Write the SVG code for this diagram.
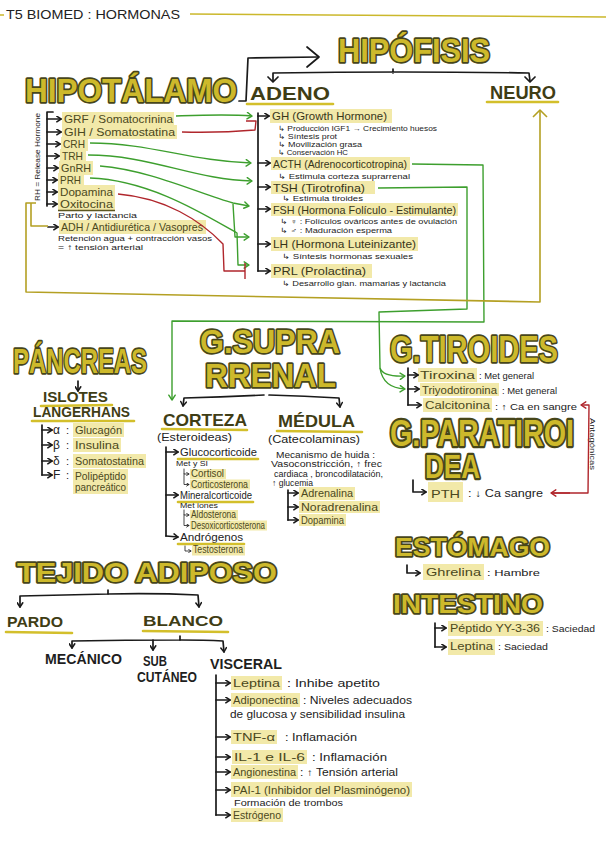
<svg xmlns="http://www.w3.org/2000/svg" width="606" height="848" viewBox="0 0 606 848">
<defs>
<style>
text{font-family:"Liberation Sans","DejaVu Sans",sans-serif}
.big{font-weight:bold;fill:#cdb92b;stroke:#47461a;stroke-width:3.4;paint-order:stroke;stroke-linejoin:round}
.hd{font-weight:bold;fill:#3f3d15}
.cap{font-weight:bold;fill:#1e1e1e}
.ul{stroke:#d3bf2b;stroke-width:2.6;fill:none;stroke-linecap:round}
.hl{fill:#f2e9a9}
.it{font-size:11px;fill:#4b4820}
.ad{font-size:11px;fill:#37351a}
.sm{font-size:7.2px;fill:#222}
.tx{fill:#222}
.k{stroke:#1a1a1a;stroke-width:1.7;fill:none;stroke-linecap:round;stroke-linejoin:round}
.kt{stroke:#1a1a1a;stroke-width:0.8;fill:none;stroke-linecap:round;stroke-linejoin:round}
.g{stroke:#3d9f2e;stroke-width:1.4;fill:none;stroke-linejoin:round}
.r{stroke:#b0262c;stroke-width:1.4;fill:none;stroke-linejoin:round}
.y{stroke:#b4a023;stroke-width:1.6;fill:none;stroke-linejoin:round}
</style>
<marker id="mk" viewBox="0 0 10 10" refX="8" refY="5" markerWidth="7" markerHeight="7" markerUnits="userSpaceOnUse" orient="auto"><path d="M2,1 L8,5 L2,9" fill="none" stroke="#1a1a1a" stroke-width="2.2" stroke-linecap="round" stroke-linejoin="round"/></marker>
<marker id="mt" viewBox="0 0 10 10" refX="8" refY="5" markerWidth="4" markerHeight="4" markerUnits="userSpaceOnUse" orient="auto"><path d="M2,1 L8,5 L2,9" fill="none" stroke="#1a1a1a" stroke-width="2" stroke-linecap="round" stroke-linejoin="round"/></marker>
<marker id="mg" viewBox="0 0 10 10" refX="8" refY="5" markerWidth="8" markerHeight="8" markerUnits="userSpaceOnUse" orient="auto"><path d="M2,1 L8,5 L2,9" fill="none" stroke="#3d9f2e" stroke-width="1.8" stroke-linecap="round" stroke-linejoin="round"/></marker>
<marker id="mr" viewBox="0 0 10 10" refX="8" refY="5" markerWidth="8" markerHeight="8" markerUnits="userSpaceOnUse" orient="auto"><path d="M2,1 L8,5 L2,9" fill="none" stroke="#b0262c" stroke-width="1.8" stroke-linecap="round" stroke-linejoin="round"/></marker>
</defs>
<rect width="606" height="848" fill="#ffffff"/>

<g id="title">
<path d="M0,15 L4,15 M190,14 L606,17" stroke="#cbb82c" stroke-width="1.6" fill="none"/>
<text class="tx" x="6" y="19" font-size="13" textLength="174" lengthAdjust="spacingAndGlyphs">T5 BIOMED : HORMONAS</text>
</g>

<g id="hipotalamo">
<text class="big" x="25" y="102" font-size="34" textLength="212" lengthAdjust="spacingAndGlyphs">HIPOTÁLAMO</text>
<text class="tx" transform="translate(40,201) rotate(-90)" font-size="7" textLength="88" lengthAdjust="spacingAndGlyphs">RH = Release Hormone</text>
<rect class="hl" x="62" y="112" width="112" height="14"/><text class="it" x="64" y="123" textLength="109" lengthAdjust="spacingAndGlyphs">GRF / Somatocrinina</text>
<rect class="hl" x="62" y="125" width="115" height="14"/><text class="it" x="64" y="136" textLength="111" lengthAdjust="spacingAndGlyphs">GIH / Somatostatina</text>
<rect class="hl" x="61" y="137" width="27" height="14"/><text class="it" x="63" y="148" textLength="22" lengthAdjust="spacingAndGlyphs">CRH</text>
<rect class="hl" x="60" y="149" width="26" height="14"/><text class="it" x="62" y="160" textLength="21" lengthAdjust="spacingAndGlyphs">TRH</text>
<rect class="hl" x="59" y="161" width="34" height="14"/><text class="it" x="61" y="172" textLength="30" lengthAdjust="spacingAndGlyphs">GnRH</text>
<rect class="hl" x="58" y="173" width="26" height="14"/><text class="it" x="60" y="184" textLength="21" lengthAdjust="spacingAndGlyphs">PRH</text>
<rect class="hl" x="58" y="185" width="57" height="14"/><text class="it" x="60" y="196" textLength="53" lengthAdjust="spacingAndGlyphs">Dopamina</text>
<rect class="hl" x="58" y="197" width="57" height="13"/><text class="it" x="60" y="208" textLength="53" lengthAdjust="spacingAndGlyphs">Oxitocina</text>
<path d="M58,210.5 L115,210.5" stroke="#5c5620" stroke-width="1.3"/>
<text class="sm" x="58" y="218" textLength="79" lengthAdjust="spacingAndGlyphs">Parto y lactancia</text>
<rect class="hl" x="59" y="220" width="147" height="14"/><text class="it" x="61" y="231" textLength="142" lengthAdjust="spacingAndGlyphs">ADH / Antidiurética / Vasopres</text>
<text class="tx" x="58" y="241" font-size="8" textLength="154" lengthAdjust="spacingAndGlyphs">Retención agua + contracción vasos</text>
<text class="tx" x="58" y="250" font-size="8" textLength="85" lengthAdjust="spacingAndGlyphs">= ↑ tensión arterial</text>
</g>

<g id="hipofisis">
<text class="big" x="338" y="62" font-size="34" textLength="152" lengthAdjust="spacingAndGlyphs">HIPÓFISIS</text>
</g>

<g id="adeno">
<text class="hd" x="250" y="100" font-size="18" textLength="80" lengthAdjust="spacingAndGlyphs">ADENO</text>
<path class="ul" d="M247,104 L333,104"/>
<rect class="hl" x="270" y="109" width="122" height="14"/><text class="ad" x="272" y="120" textLength="115" lengthAdjust="spacingAndGlyphs">GH (Growth Hormone)</text>
<text class="sm" x="278" y="130.5" textLength="159" lengthAdjust="spacingAndGlyphs">↳ Producción IGF1 → Crecimiento huesos</text>
<text class="sm" x="278" y="138.5" textLength="59" lengthAdjust="spacingAndGlyphs">↳ Síntesis prot</text>
<text class="sm" x="278" y="146.5" textLength="84" lengthAdjust="spacingAndGlyphs">↳ Movilización grasa</text>
<text class="sm" x="278" y="154.5" textLength="70" lengthAdjust="spacingAndGlyphs">↳ Conservación HC</text>
<rect class="hl" x="271" y="157" width="139" height="13"/><text class="ad" x="273" y="167.5" textLength="134" lengthAdjust="spacingAndGlyphs">ACTH (Adrenocorticotropina)</text>
<text class="sm" x="278" y="178.5" textLength="132" lengthAdjust="spacingAndGlyphs">↳ Estimula corteza suprarrenal</text>
<rect class="hl" x="271" y="181" width="104" height="13"/><text class="ad" x="273" y="191.5" textLength="92" lengthAdjust="spacingAndGlyphs">TSH (Tirotrofina)</text>
<text class="sm" x="282" y="201" textLength="81" lengthAdjust="spacingAndGlyphs">↳ Estimula tiroides</text>
<rect class="hl" x="271" y="203" width="187" height="13"/><text class="ad" x="273" y="213.5" textLength="183" lengthAdjust="spacingAndGlyphs">FSH (Hormona Folículo - Estimulante)</text>
<text class="sm" x="280" y="224" textLength="177" lengthAdjust="spacingAndGlyphs">↳ ♀ : Folículos ováricos antes de ovulación</text>
<text class="sm" x="280" y="233" textLength="112" lengthAdjust="spacingAndGlyphs">↳ ♂ : Maduración esperma</text>
<rect class="hl" x="271" y="237" width="147" height="14"/><text class="ad" x="273" y="248" textLength="143" lengthAdjust="spacingAndGlyphs">LH (Hormona Luteinizante)</text>
<text class="sm" x="282" y="259" textLength="131" lengthAdjust="spacingAndGlyphs">↳ Síntesis hormonas sexuales</text>
<rect class="hl" x="271" y="264" width="101" height="14"/><text class="ad" x="273" y="275" textLength="93" lengthAdjust="spacingAndGlyphs">PRL (Prolactina)</text>
<text class="sm" x="282" y="286" textLength="164" lengthAdjust="spacingAndGlyphs">↳ Desarrollo glan. mamarias y lactancia</text>
</g>

<g id="neuro">
<text class="hd" x="490" y="99" font-size="18" textLength="66" lengthAdjust="spacingAndGlyphs">NEURO</text>
<path class="ul" d="M487,102 L558,102"/>
</g>

<g id="pancreas">
<text class="big" x="13" y="373" font-size="35" textLength="134" lengthAdjust="spacingAndGlyphs">PÁNCREAS</text>
<text class="hd" x="43" y="402" font-size="15" textLength="65" lengthAdjust="spacingAndGlyphs">ISLOTES</text>
<path class="ul" d="M41,406 L112,405"/>
<text class="hd" x="33" y="417" font-size="15" textLength="97" lengthAdjust="spacingAndGlyphs">LANGERHANS</text>
<path class="ul" d="M32,421 L134,421"/>
<text class="tx" x="53" y="434" font-size="12">α</text><text class="tx" x="66" y="434" font-size="11">:</text>
<rect class="hl" x="73" y="423" width="51" height="14"/><text class="it" x="75" y="434" textLength="47" lengthAdjust="spacingAndGlyphs">Glucagón</text>
<text class="tx" x="53" y="449" font-size="12">β</text><text class="tx" x="66" y="449" font-size="11">:</text>
<rect class="hl" x="73" y="438" width="48" height="14"/><text class="it" x="75" y="449" textLength="44" lengthAdjust="spacingAndGlyphs">Insulina</text>
<text class="tx" x="53" y="465" font-size="12">δ</text><text class="tx" x="66" y="465" font-size="11">:</text>
<rect class="hl" x="73" y="454" width="73" height="14"/><text class="it" x="75" y="465" textLength="69" lengthAdjust="spacingAndGlyphs">Somatostatina</text>
<text class="tx" x="53" y="479" font-size="12">F</text><text class="tx" x="66" y="479" font-size="11">:</text>
<rect class="hl" x="73" y="469" width="55" height="25"/><text class="it" x="75" y="480" textLength="51" lengthAdjust="spacingAndGlyphs">Polipéptido</text>
<text class="it" x="75" y="491" textLength="51" lengthAdjust="spacingAndGlyphs">pancreático</text>
</g>

<g id="suprarrenal">
<text class="big" x="200" y="353" font-size="34" textLength="140" lengthAdjust="spacingAndGlyphs">G.SUPRA</text>
<text class="big" x="205" y="387" font-size="34" textLength="131" lengthAdjust="spacingAndGlyphs">RRENAL</text>
</g>

<g id="corteza">
<text class="hd" x="163" y="426" font-size="17" textLength="84" lengthAdjust="spacingAndGlyphs">CORTEZA</text>
<path class="ul" d="M162,429 L247,430"/>
<text class="tx" x="157" y="441" font-size="10" textLength="75" lengthAdjust="spacingAndGlyphs">(Esteroideas)</text>
<text class="tx" x="180" y="456" font-size="10.5" textLength="77" lengthAdjust="spacingAndGlyphs">Glucocorticoide</text>
<path class="ul" d="M178,459 L258,459" stroke-width="2"/>
<text class="tx" x="176" y="466" font-size="8" textLength="32" lengthAdjust="spacingAndGlyphs">Met y SI</text>
<rect class="hl" x="190" y="469" width="36" height="10"/><text class="it" x="191" y="476.5" font-size="7.5" textLength="33" lengthAdjust="spacingAndGlyphs">Cortisol</text>
<rect class="hl" x="190" y="479.5" width="60" height="10"/><text class="it" x="191" y="487.5" font-size="7.5" textLength="57" lengthAdjust="spacingAndGlyphs">Corticosterona</text>
<text class="tx" x="180" y="499" font-size="10.5" textLength="72" lengthAdjust="spacingAndGlyphs">Mineralcorticoide</text>
<path class="ul" d="M178,502 L253,502" stroke-width="2"/>
<text class="tx" x="180" y="507.5" font-size="8" textLength="38" lengthAdjust="spacingAndGlyphs">Met iones</text>
<rect class="hl" x="190" y="510" width="48" height="10"/><text class="it" x="191" y="517.5" font-size="7.5" textLength="45" lengthAdjust="spacingAndGlyphs">Aldosterona</text>
<rect class="hl" x="190" y="520.5" width="77" height="10"/><text class="it" x="191" y="528.5" font-size="7.5" textLength="74" lengthAdjust="spacingAndGlyphs">Desoxicorticosterona</text>
<text class="tx" x="180" y="541" font-size="10.5" textLength="63" lengthAdjust="spacingAndGlyphs">Andrógenos</text>
<path class="ul" d="M178,544 L244,544" stroke-width="2"/>
<rect class="hl" x="192" y="545.5" width="53" height="10"/><text class="it" x="193" y="553" font-size="7.5" textLength="50" lengthAdjust="spacingAndGlyphs">Testosterona</text>
</g>

<g id="medula">
<text class="hd" x="278" y="427" font-size="17" textLength="77" lengthAdjust="spacingAndGlyphs">MÉDULA</text>
<path class="ul" d="M277,431 L362,432"/>
<text class="tx" x="268" y="443" font-size="10" textLength="92" lengthAdjust="spacingAndGlyphs">(Catecolaminas)</text>
<text class="tx" x="276" y="458" font-size="8.5" textLength="99" lengthAdjust="spacingAndGlyphs">Mecanismo de huida :</text>
<text class="tx" x="271" y="467" font-size="8.5" textLength="111" lengthAdjust="spacingAndGlyphs">Vasoconstricción, ↑ frec</text>
<text class="tx" x="274" y="477" font-size="8.5" textLength="109" lengthAdjust="spacingAndGlyphs">cardiaca , broncodilatación,</text>
<text class="tx" x="272" y="486" font-size="8.5" textLength="41" lengthAdjust="spacingAndGlyphs">↑ glucemia</text>
<rect class="hl" x="299" y="487" width="56" height="13"/><text class="it" x="301" y="497" font-size="10" textLength="52" lengthAdjust="spacingAndGlyphs">Adrenalina</text>
<rect class="hl" x="299" y="501" width="81" height="12"/><text class="it" x="301" y="510.5" font-size="10" textLength="77" lengthAdjust="spacingAndGlyphs">Noradrenalina</text>
<rect class="hl" x="299" y="514" width="47" height="12"/><text class="it" x="301" y="523.5" font-size="10" textLength="43" lengthAdjust="spacingAndGlyphs">Dopamina</text>
</g>

<g id="tiroides">
<text class="big" x="390" y="362" font-size="37" textLength="168" lengthAdjust="spacingAndGlyphs">G.TIROIDES</text>
<rect class="hl" x="418" y="368" width="59" height="14"/><text class="it" x="420" y="379" textLength="55" lengthAdjust="spacingAndGlyphs">Tiroxina</text>
<text class="tx" x="479" y="379" font-size="8.5" textLength="55" lengthAdjust="spacingAndGlyphs">: Met general</text>
<rect class="hl" x="420" y="383" width="79" height="13"/><text class="it" x="422" y="393.5" textLength="75" lengthAdjust="spacingAndGlyphs">Triyodotironina</text>
<text class="tx" x="502" y="394" font-size="8.5" textLength="55" lengthAdjust="spacingAndGlyphs">: Met general</text>
<rect class="hl" x="423" y="398" width="69" height="14"/><text class="it" x="425" y="409" textLength="65" lengthAdjust="spacingAndGlyphs">Calcitonina</text>
<text class="tx" x="495" y="410" font-size="9" textLength="82" lengthAdjust="spacingAndGlyphs">: ↑ Ca en sangre</text>
</g>

<g id="paratiroidea">
<text class="big" transform="translate(390,446) scale(1,1.3)" x="0" y="0" font-size="28" stroke-width="2.8" textLength="184" lengthAdjust="spacingAndGlyphs">G.PARATIROI</text>
<text class="big" transform="translate(425,478) scale(1,1.3)" x="0" y="0" font-size="26" stroke-width="2.8" textLength="55" lengthAdjust="spacingAndGlyphs">DEA</text>
<rect class="hl" x="428" y="482" width="35" height="20"/><text class="it" x="431" y="498" font-size="14" textLength="29" lengthAdjust="spacingAndGlyphs">PTH</text>
<text class="tx" x="468" y="497" font-size="10" textLength="75" lengthAdjust="spacingAndGlyphs">: ↓ Ca sangre</text>
<text class="tx" transform="translate(590,418) rotate(90)" font-size="7.5" textLength="52" lengthAdjust="spacingAndGlyphs">Antagónicas</text>
</g>

<g id="estomago">
<text class="big" x="395" y="556" font-size="26" textLength="155" lengthAdjust="spacingAndGlyphs">ESTÓMAGO</text>
<rect class="hl" x="423" y="564" width="61" height="16"/><text class="it" x="426" y="576" textLength="55" lengthAdjust="spacingAndGlyphs">Ghrelina</text>
<text class="tx" x="487" y="576" font-size="9.5" textLength="53" lengthAdjust="spacingAndGlyphs">: Hambre</text>
</g>

<g id="intestino">
<text class="big" x="393" y="613" font-size="26" textLength="150" lengthAdjust="spacingAndGlyphs">INTESTINO</text>
<rect class="hl" x="448" y="621" width="95" height="15"/><text class="it" x="450" y="632" font-size="10" textLength="90" lengthAdjust="spacingAndGlyphs">Péptido YY-3-36</text>
<text class="tx" x="546" y="632" font-size="9.5" textLength="49" lengthAdjust="spacingAndGlyphs">: Saciedad</text>
<rect class="hl" x="448" y="639" width="47" height="16"/><text class="it" x="450" y="650" font-size="10" textLength="43" lengthAdjust="spacingAndGlyphs">Leptina</text>
<text class="tx" x="498" y="650" font-size="9.5" textLength="50" lengthAdjust="spacingAndGlyphs">: Saciedad</text>
</g>

<g id="tejido-adiposo">
<text class="big" x="17" y="582" font-size="28" textLength="260" lengthAdjust="spacingAndGlyphs">TEJIDO ADIPOSO</text>
</g>

<g id="pardo">
<text class="hd" x="7" y="627" font-size="15" textLength="56" lengthAdjust="spacingAndGlyphs">PARDO</text>
<path class="ul" d="M6,632 L72,633"/>
</g>

<g id="blanco">
<text class="hd" x="143" y="626" font-size="15" textLength="80" lengthAdjust="spacingAndGlyphs">BLANCO</text>
<path class="ul" d="M143,631 L228,632"/>
</g>

<g id="mecanico"><text class="cap" x="45" y="664" font-size="14" textLength="77" lengthAdjust="spacingAndGlyphs">MECÁNICO</text></g>
<g id="subcutaneo">
<text class="cap" x="143" y="666" font-size="14" textLength="24" lengthAdjust="spacingAndGlyphs">SUB</text>
<text class="cap" x="137" y="682" font-size="14" textLength="60" lengthAdjust="spacingAndGlyphs">CUTÁNEO</text>
</g>
<g id="visceral">
<text class="cap" x="210" y="669" font-size="14" textLength="72" lengthAdjust="spacingAndGlyphs">VISCERAL</text>
<rect class="hl" x="231" y="676" width="51" height="14"/><text class="it" x="233" y="687" textLength="47" lengthAdjust="spacingAndGlyphs">Leptina</text>
<text class="tx" x="287" y="687" font-size="10" textLength="93" lengthAdjust="spacingAndGlyphs">: Inhibe apetito</text>
<rect class="hl" x="231" y="693" width="69" height="14"/><text class="it" x="233" y="704" textLength="65" lengthAdjust="spacingAndGlyphs">Adiponectina</text>
<text class="tx" x="303" y="704" font-size="10" textLength="109" lengthAdjust="spacingAndGlyphs">: Niveles adecuados</text>
<text class="tx" x="230" y="718" font-size="10" textLength="175" lengthAdjust="spacingAndGlyphs">de glucosa y sensibilidad insulina</text>
<rect class="hl" x="231" y="730" width="46" height="14"/><text class="it" x="233" y="741" textLength="42" lengthAdjust="spacingAndGlyphs">TNF-α</text>
<text class="tx" x="285" y="741" font-size="10" textLength="72" lengthAdjust="spacingAndGlyphs">: Inflamación</text>
<rect class="hl" x="232" y="750" width="75" height="14"/><text class="it" x="234" y="761" textLength="71" lengthAdjust="spacingAndGlyphs">IL-1 e IL-6</text>
<text class="tx" x="312" y="761" font-size="10" textLength="75" lengthAdjust="spacingAndGlyphs">: Inflamación</text>
<rect class="hl" x="231" y="765" width="67" height="14"/><text class="it" x="233" y="776" font-size="10" textLength="63" lengthAdjust="spacingAndGlyphs">Angionestina</text>
<text class="tx" x="300" y="776" font-size="10" textLength="98" lengthAdjust="spacingAndGlyphs">: ↑ Tensión arterial</text>
<rect class="hl" x="231" y="782" width="181" height="15"/><text class="it" x="233" y="794" textLength="177" lengthAdjust="spacingAndGlyphs">PAI-1 (Inhibidor del Plasminógeno)</text>
<text class="tx" x="234" y="806" font-size="9.5" textLength="109" lengthAdjust="spacingAndGlyphs">Formación de trombos</text>
<rect class="hl" x="231" y="808" width="52" height="14"/><text class="it" x="233" y="819" textLength="48" lengthAdjust="spacingAndGlyphs">Estrógeno</text>
</g>

<g id="connectors">
<path class="k" stroke-width="3.4" d="M239,101 L246,101 L248,58 L318,57"/>
<path class="k" stroke-width="3.4" d="M307,47 L319,57 L307,67"/>
<path class="k" d="M273,81 L273,73 Q400,71 529,73 L530,81 M393,69 L393,73"/>
<path class="k" d="M268,77 L273,82 L278,77 M525,77 L530,82 L535,77"/>
<path class="k" d="M53,112 L47,112 L47,206"/>
<path class="k" marker-end="url(#mk)" d="M47,119 L61,119"/>
<path class="k" marker-end="url(#mk)" d="M47,132 L61,132"/>
<path class="k" marker-end="url(#mk)" d="M47,144 L60,144"/>
<path class="k" marker-end="url(#mk)" d="M47,156 L59,156"/>
<path class="k" marker-end="url(#mk)" d="M47,168 L58,168"/>
<path class="k" marker-end="url(#mk)" d="M47,180 L57,180"/>
<path class="k" marker-end="url(#mk)" d="M47,192 L57,192"/>
<path class="k" marker-end="url(#mk)" d="M47,204 L57,204"/>
<path class="k" marker-end="url(#mk)" d="M48,227 L58,227"/>
<path class="k" stroke-width="2" d="M258,113 L258,271"/>
<path class="k" marker-end="url(#mk)" d="M258,116 L269,116"/>
<path class="k" marker-end="url(#mk)" d="M258,163 L270,163"/>
<path class="k" marker-end="url(#mk)" d="M258,187 L270,187"/>
<path class="k" marker-end="url(#mk)" d="M258,209 L270,209"/>
<path class="k" marker-end="url(#mk)" d="M258,244 L270,244"/>
<path class="k" marker-end="url(#mk)" d="M258,271 L270,271"/>
<path class="g" marker-end="url(#mg)" d="M176,116 C205,115 228,114 252,116"/>
<path class="r" d="M182,132 Q220,133 255,130 L256,121 L246,121"/>
<path class="g" marker-end="url(#mg)" d="M90,143 C150,143 190,161 251,163"/>
<path class="g" marker-end="url(#mg)" d="M88,155 C150,155 195,180 252,181"/>
<path class="g" marker-end="url(#mg)" d="M100,166 C150,170 200,194 233,203 L249,206"/>
<path class="g" marker-end="url(#mg)" d="M233,204 L235,237 L249,237"/>
<path class="g" marker-end="url(#mg)" d="M90,178 C150,180 205,215 237,233 L238,265 L249,265"/>
<path class="r" d="M118,194 C165,198 200,220 223,244 L224,271 L245,271 M245,263 L245,279"/>
<path class="g" marker-end="url(#mg)" d="M412,164 L483,165 L484,322 L172,321 L172,400"/>
<path class="g" d="M378,188 L467,187 L467,309 L379,312 L380,368"/>
<path class="g" marker-end="url(#mg)" d="M380,368 Q383,377 405,376"/>
<path class="g" marker-end="url(#mg)" d="M380,368 Q383,388 405,389"/>
<path class="y" d="M36,203 L26,203 L26,292 L540,302 L540,110"/>
<path class="y" d="M533,117 L540,110 L547,117"/>
<path class="y" d="M31,203 L31,226 L48,226"/>
<path class="k" marker-end="url(#mk)" d="M78,381 L78,391"/>
<path class="k" d="M42,425 L42,475"/>
<path class="k" marker-end="url(#mk)" d="M42,430 L52,430"/>
<path class="k" marker-end="url(#mk)" d="M42,445 L52,445"/>
<path class="k" marker-end="url(#mk)" d="M42,461 L52,461"/>
<path class="k" marker-end="url(#mk)" d="M42,475 L52,475"/>
<path class="k" marker-end="url(#mk)" d="M264,395 Q225,397 184,398 L183,406"/>
<path class="k" marker-end="url(#mk)" d="M269,395 Q305,396 339,398 L340,407"/>
<path class="k" d="M166,447 L166,536"/>
<path class="k" marker-end="url(#mk)" d="M166,452 L178,452"/>
<path class="k" marker-end="url(#mk)" d="M166,495 L178,495"/>
<path class="k" marker-end="url(#mk)" d="M166,536 L178,537"/>
<path class="kt" marker-end="url(#mt)" d="M184,469 L184,474 L189,474"/>
<path class="kt" marker-end="url(#mt)" d="M184,474 L184,484.5 L189,484.5"/>
<path class="kt" marker-end="url(#mt)" d="M184,510 L184,515 L189,515"/>
<path class="kt" marker-end="url(#mt)" d="M184,515 L184,525.5 L189,525.5"/>
<path class="kt" marker-end="url(#mt)" d="M185,546 L185,551 L191,551"/>
<path class="k" d="M288,490 L288,520"/>
<path class="k" marker-end="url(#mk)" d="M288,493 L298,493"/>
<path class="k" marker-end="url(#mk)" d="M288,507 L298,507"/>
<path class="k" marker-end="url(#mk)" d="M288,520 L298,520"/>
<path class="k" stroke-width="2" d="M408,368 L408,405"/>
<path class="k" marker-end="url(#mk)" d="M408,375 L418,375"/>
<path class="k" marker-end="url(#mk)" d="M408,389 L419,389"/>
<path class="k" marker-end="url(#mk)" d="M408,405 L421,405"/>
<path class="r" marker-end="url(#mr)" d="M551,493 L588,493 L589,405 L581,405"/>
<path class="r" marker-end="url(#mr)" d="M570,493 L551,493"/>
<path class="k" stroke-width="2" marker-end="url(#mk)" d="M413,480 L413,492 L426,492"/>
<path class="k" stroke-width="2" marker-end="url(#mk)" d="M407,565 L407,573 L420,573"/>
<path class="k" stroke-width="2" d="M435,623 L435,647"/>
<path class="k" marker-end="url(#mk)" d="M435,628 L446,628"/>
<path class="k" marker-end="url(#mk)" d="M435,647 L446,647"/>
<path class="k" marker-end="url(#mk)" d="M108,590 L108,594 Q60,595 20,596 L20,607"/>
<path class="k" marker-end="url(#mk)" d="M108,594 Q155,593 198,595 L199,607"/>
<path class="k" marker-end="url(#mk)" d="M180,636 L180,640 Q125,640 72,641 L72,648"/>
<path class="k" marker-end="url(#mk)" d="M180,640 Q205,640 223,641 L224,652"/>
<path class="k" marker-end="url(#mk)" d="M153,640 L153,650"/>
<path class="k" d="M216,675 L216,815"/>
<path class="k" marker-end="url(#mk)" d="M216,683 L230,683"/>
<path class="k" marker-end="url(#mk)" d="M216,700 L230,700"/>
<path class="k" marker-end="url(#mk)" d="M216,737 L230,737"/>
<path class="k" marker-end="url(#mk)" d="M216,757 L230,757"/>
<path class="k" marker-end="url(#mk)" d="M216,772 L230,772"/>
<path class="k" marker-end="url(#mk)" d="M216,790 L230,790"/>
<path class="k" marker-end="url(#mk)" d="M216,815 L230,815"/>
</g>
</svg>
